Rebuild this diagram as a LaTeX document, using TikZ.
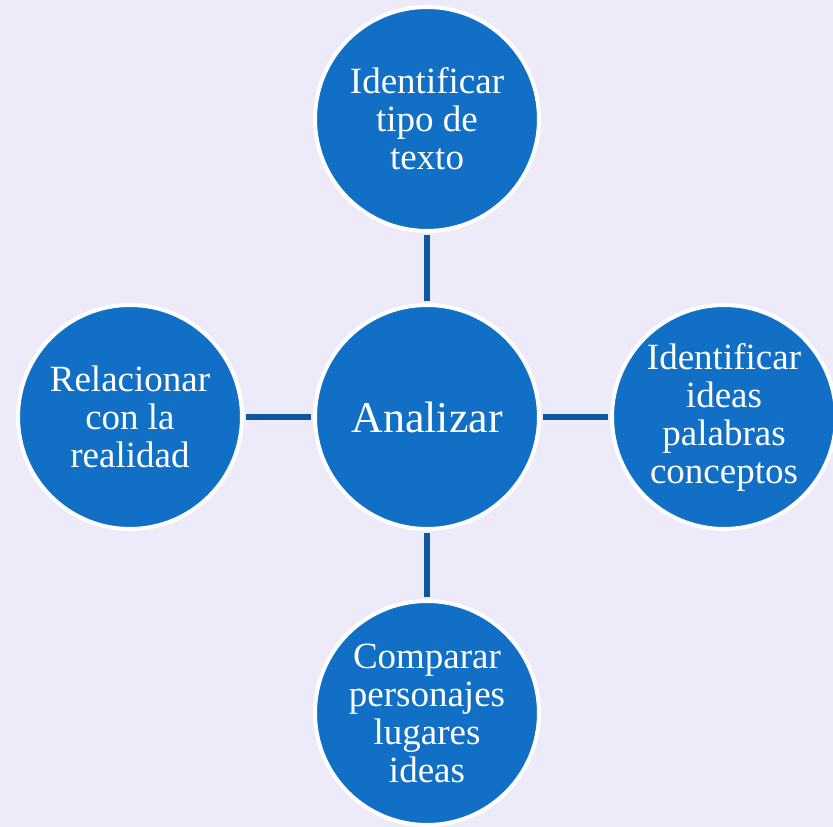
\documentclass[tikz,border=0pt]{standalone}
\usepackage{fontspec}
\setmainfont{Liberation Serif}
\definecolor{bubblefill}{HTML}{1170C5}
\definecolor{linkblue}{HTML}{0B58A0}
\definecolor{backlilac}{HTML}{EDEBFA}
\begin{document}
\begin{tikzpicture}[x=1pt, y=1pt,
        bubble/.style={circle, fill=bubblefill, draw=white, line width=4pt,
            minimum size=224pt, inner sep=0pt, align=center, text=white,
            font=\fontsize{37}{38}\selectfont},
        link/.style={linkblue, line width=6pt, shorten <=2pt, shorten >=2pt}]
        \fill [backlilac] (0, 0) rectangle (833, 827);
        \useasboundingbox (0, 0) rectangle (833, 827);
        \node [bubble, font=\fontsize{44}{46}\selectfont] (0) at (427, 410) {Analizar};
        \node [bubble] (1) at (427, 708) {Identificar\\tipo de\\texto};
        \node [bubble] (2) at (724, 410) {Identificar\\ideas\\palabras\\conceptos};
        \node [bubble] (3) at (427, 114) {Comparar\\personajes\\lugares\\ideas};
        \node [bubble] (4) at (130, 410) {Relacionar\\con la\\realidad};
        \draw [link] (1) -- (0);
        \draw [link] (0) -- (2);
        \draw [link] (0) -- (3);
        \draw [link] (4) -- (0);
    \end{tikzpicture}
\end{document}
